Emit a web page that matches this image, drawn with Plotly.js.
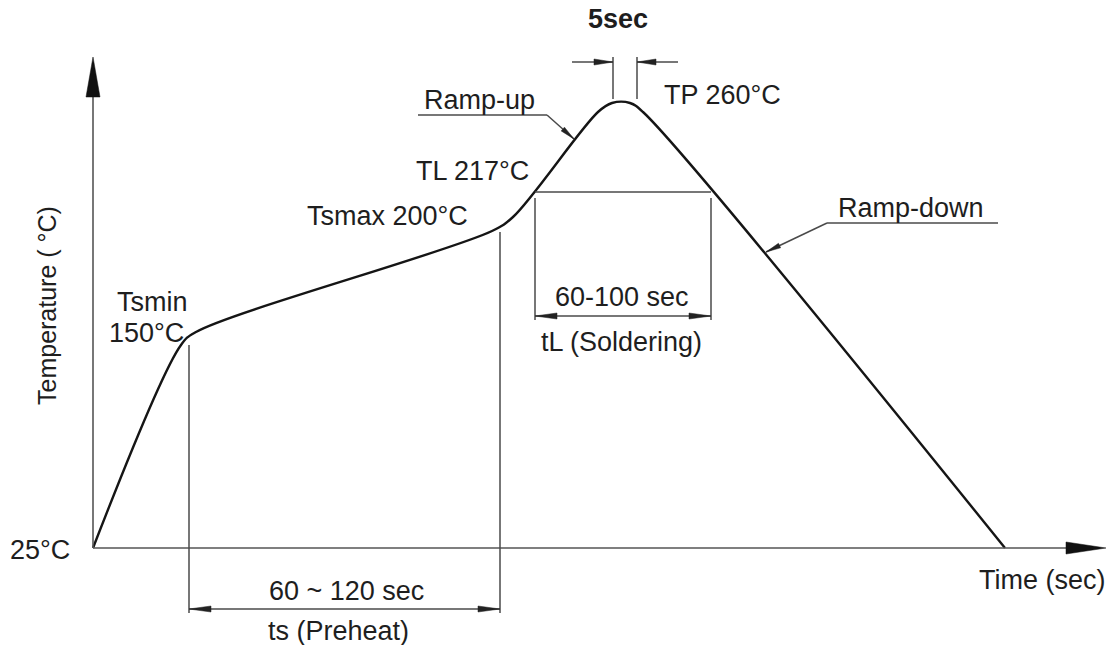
<!DOCTYPE html>
<html><head><meta charset="utf-8">
<script src="https://cdn.plot.ly/plotly-3.0.1.min.js"></script>
<style>html,body{margin:0;padding:0;background:#fff}#chart{width:1115px;height:645px}</style>
</head><body><div id="chart"></div>
<script>
// Schematic reflow profile. Diagram units: x = schematic time position, y = schematic temperature level (axis reversed).
const profileX = [93, 181, 196, 492, 513, 598, 612, 630, 643, 1005];
const profileY = [548, 345, 332, 231, 217, 112, 103, 103, 112, 548];

// key schematic levels / times
const ambientLevel = 548;   // 25°C
const tsminLevel = 345;     // 150°C
const tsmaxLevel = 232;     // 200°C
const tlLevel = 192;        // 217°C
const tpLevel = 103;        // 260°C
const tsStart = 189, tsEnd = 500;     // preheat window
const tlStart = 535, tlEnd = 711;     // liquidus window
const tpStart = 613, tpEnd = 637;     // 5 s at peak

const labels = ['5sec','TP 260°C','Ramp-up','TL 217°C','Tsmax 200°C','Tsmin','150°C',
                'Ramp-down','60-100 sec','tL (Soldering)','60 ~ 120 sec','ts (Preheat)','25°C','Time (sec)'];
const axisTitleY = 'Temperature ( °C)';

// label placement (layout only)
const labelPos = [
  [618, 19, true], [722, 95], [479, 100], [472, 171], [387, 216], [152, 302], [146, 333],
  [911, 208], [622, 297], [621, 342], [346, 591], [338, 631], [40, 550], [1042, 580]
];

const ink = '#1e1e1e', guide = '#4a4a4a';
const font = {family: 'Liberation Sans, Arial, sans-serif', size: 27, color: ink};

function line(x0, y0, x1, y1, color, w) {
  return {type: 'line', xref: 'x', yref: 'y', x0, y0, x1, y1, line: {color: color, width: w}};
}
function head(tx, ty, fx, fy, len, wid, color) {
  const dx = tx - fx, dy = ty - fy, d = Math.hypot(dx, dy), ux = dx / d, uy = dy / d;
  const bx = tx - ux * len, by = ty - uy * len, px = -uy * wid / 2, py = ux * wid / 2;
  return {type: 'path', xref: 'x', yref: 'y',
    path: `M ${tx},${ty} L ${bx + px},${by + py} L ${bx - px},${by - py} Z`,
    fillcolor: color, line: {color: color, width: 0.5}};
}

const shapes = [
  // axes
  line(93, ambientLevel, 93, 90, '#555', 1.6),
  head(93, 57, 93, 100, 40, 14, '#111'),
  line(93, ambientLevel, 1070, ambientLevel, '#555', 1.6),
  head(1106, ambientLevel, 1060, ambientLevel, 40, 12, '#111'),
  // preheat window
  line(tsStart, tsminLevel, tsStart, 613, guide, 1.5),
  line(tsEnd, tsmaxLevel, tsEnd, 613, guide, 1.5),
  line(tsStart, 609, tsEnd, 609, guide, 1.5),
  head(tsStart, 609, tsEnd, 609, 22, 6, '#222'),
  head(tsEnd, 609, tsStart, 609, 22, 6, '#222'),
  // liquidus window
  line(tlStart, tlLevel, tlEnd, tlLevel, guide, 1.6),
  line(tlStart, 198, tlStart, 320, guide, 1.5),
  line(tlEnd, 198, tlEnd, 320, guide, 1.5),
  line(tlStart, 316, tlEnd, 316, guide, 1.5),
  head(tlStart, 316, tlEnd, 316, 22, 6, '#222'),
  head(tlEnd, 316, tlStart, 316, 22, 6, '#222'),
  // 5 sec at peak
  line(tpStart, 57, tpStart, 99, guide, 1.5),
  line(tpEnd, 57, tpEnd, 99, guide, 1.5),
  line(572, 62, tpStart, 62, guide, 1.5),
  line(678, 62, tpEnd, 62, guide, 1.5),
  head(tpStart, 62, 572, 62, 19, 6, '#222'),
  head(tpEnd, 62, 678, 62, 19, 6, '#222'),
  // ramp-up leader
  line(418, 115, 547, 115, guide, 1.5),
  line(547, 115, 574, 139, guide, 1.5),
  head(574, 139, 547, 115, 15, 5, '#222'),
  // ramp-down leader
  line(827, 223, 998, 223, guide, 1.5),
  line(827, 223, 766, 252, guide, 1.5),
  head(766, 252, 827, 223, 15, 5, '#222')
];

const annotations = labels.map((t, i) => ({
  x: labelPos[i][0], y: labelPos[i][1], xref: 'x', yref: 'y', text: labelPos[i][2] ? '<b>' + t + '</b>' : t,
  showarrow: false, xanchor: 'center', yanchor: 'middle', font: font
}));
annotations.push({x: 47, y: 306, xref: 'x', yref: 'y', text: axisTitleY, textangle: -90,
  showarrow: false, xanchor: 'center', yanchor: 'middle', font: Object.assign({}, font, {size: 25})});

const trace = {
  x: profileX, y: profileY, type: 'scatter', mode: 'lines',
  line: {color: '#151515', width: 2.4, shape: 'spline', smoothing: 1},
  hoverinfo: 'skip'
};

Plotly.newPlot('chart', [trace], {
  width: 1115, height: 645, margin: {l: 0, r: 0, t: 0, b: 0},
  paper_bgcolor: '#fff', plot_bgcolor: '#fff', showlegend: false,
  xaxis: {range: [0, 1115], visible: false, fixedrange: true},
  yaxis: {range: [645, 0], visible: false, fixedrange: true},
  shapes: shapes, annotations: annotations
}, {staticPlot: true});
</script></body></html>
